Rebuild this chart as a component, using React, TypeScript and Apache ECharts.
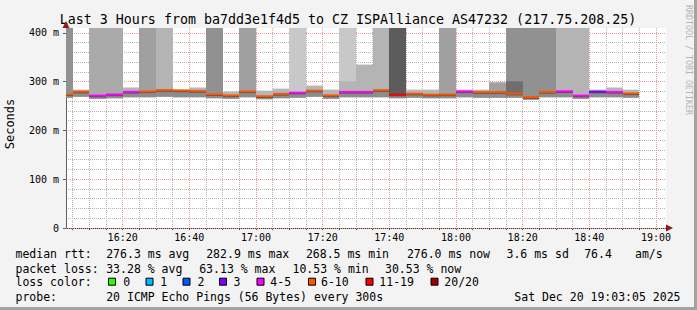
import React, { useEffect, useRef } from 'react';
import * as echarts from 'echarts';

// ---------- data ----------
const TITLE = 'Last 3 Hours from ba7dd3e1f4d5 to CZ ISPAlliance AS47232 (217.75.208.25)';
const tickLabels = ['16:20', '16:40', '17:00', '17:20', '17:40', '18:00', '18:20', '18:40', '19:00'];
const binEnds = [
  '16:05', '16:10', '16:15', '16:20', '16:25', '16:30', '16:35', '16:40', '16:45', '16:50',
  '16:55', '17:00', '17:05', '17:10', '17:15', '17:20', '17:25', '17:30', '17:35', '17:40',
  '17:45', '17:50', '17:55', '18:00', '18:05', '18:10', '18:15', '18:20', '18:25', '18:30',
  '18:35', '18:40', '18:45', '18:50', '18:55',
];
const medianMs = [
  274.0, 279.6, 271.4, 273.8, 279.2, 280.0, 282.9, 282.0, 281.0, 274.0,
  271.8, 280.0, 270.0, 275.0, 277.5, 281.6, 271.8, 279.0, 279.0, 282.6,
  273.4, 275.5, 273.4, 273.8, 280.0, 278.6, 278.6, 275.5, 268.5, 279.0,
  280.3, 271.4, 279.6, 279.0, 276.0,
];
const lostPings = [
  9, 6, 5, 5, 4, 8, 7, 6, 6, 9,
  6, 8, 6, 6, 4, 6, 6, 5, 5, 7,
  13, 6, 6, 8, 4, 6, 7, 10, 9, 9,
  5, 5, 3, 4, 6,
];
const smokeLoMs = [
  267, 269, 265, 266, 268, 268, 269, 268, 268, 266,
  265, 268, 264, 266, 267, 269, 265, 268, 268, 268,
  266, 267, 266, 266, 268, 267, 267, 267, 263, 268,
  268, 265, 268, 268, 267,
];
const smokeHiMs = [
  277, 283.7, 275, 277, 288, 283, 286, 283.7, 288, 277,
  279.6, 283, 281.6, 285.7, 281, 292, 283.7, 282, 282, 286,
  277, 283.7, 283.7, 277, 283.7, 283.7, 283.7, 279, 273, 282,
  284, 275, 283.7, 288, 283.7,
];
// slow / timed-out pings reaching above the smoke (999 = beyond the chart top, 0 = none)
const spikeTopMs = [
  999, 0, 999, 999, 0, 999, 999, 0, 0, 999,
  0, 999, 0, 0, 999, 0, 0, 999, 335, 999,
  999, 0, 0, 999, 0, 0, 298.7, 999, 999, 999,
  999, 999, 0, 0, 0,
];
const spikeDepth = [
  5, 0, 3, 3, 0, 4, 2, 0, 0, 5,
  0, 4, 0, 0, 1, 0, 0, 1, 2, 2,
  7, 0, 0, 4, 0, 0, 4, 5, 5, 5,
  2, 2, 0, 0, 0,
];
const stepTopMs = [
  0, 0, 0, 0, 0, 0, 0, 0, 0, 0,
  0, 0, 0, 0, 0, 0, 0, 300.7, 0, 0,
  0, 0, 0, 0, 0, 0, 0, 300.7, 0, 0,
  0, 0, 0, 0, 0,
];
const stepDepth = [
  0, 0, 0, 0, 0, 0, 0, 0, 0, 0,
  0, 0, 0, 0, 0, 0, 0, 2, 0, 0,
  0, 0, 0, 0, 0, 0, 0, 6, 0, 0,
  0, 0, 0, 0, 0,
];

const rttStats = ['276.3 ms avg', '282.9 ms max', '268.5 ms min', '276.0 ms now', '3.6 ms sd', '76.4', 'am/s'];
const lossStats = ['33.28 % avg', '63.13 % max', '10.53 % min', '30.53 % now'];
const lossLegendLabels = ['0', '1', '2', '3', '4-5', '6-10', '11-19', '20/20'];
const lossLegendColors = ['#26ff00', '#00b8ff', '#0059ff', '#7e00ff', '#ff00ff', '#ff5500', '#ff0000', '#a00000'];
const probeText = '20 ICMP Echo Pings (56 Bytes) every 300s';
const dateText = 'Sat Dec 20 19:03:05 2025';

// ---------- layout / style ----------
const MONO = '"DejaVu Sans Mono", monospace';
const START_MIN = 16 * 60 + 3; // 16:03
const END_MIN = 19 * 60 + 3; // 19:03
const Y_MAX = 410;
const SHADES = [255, 200, 180, 170, 160, 145, 110, 92];
const MINOR_GRID = '#b4b4b4';
const MAJOR_GRID = '#eb9a9a';

const toMin = (s: string) => {
  const [h, m] = s.split(':').map(Number);
  return h * 60 + m;
};
const minuteLabels: string[] = [];
for (let m = START_MIN; m <= END_MIN; m++) {
  minuteLabels.push(`${Math.floor(m / 60)}:${String(m % 60).padStart(2, '0')}`);
}
const minorFn = (i: number) => (START_MIN + i) % 5 === 0;
const majorFn = (i: number) => (START_MIN + i) % 20 === 0;

const shade = (d: number) => {
  const v = SHADES[Math.max(0, Math.min(SHADES.length - 1, d))];
  return `rgb(${v},${v},${v})`;
};
const lossColor = (n: number) => {
  let k = 0;
  if (n <= 0) k = 0;
  else if (n === 1) k = 1;
  else if (n === 2) k = 2;
  else if (n === 3) k = 3;
  else if (n <= 5) k = 4;
  else if (n <= 10) k = 5;
  else if (n <= 19) k = 6;
  else k = 7;
  return lossLegendColors[k];
};

const rttX = [106.2, 206.2, 305.9, 406.9, 506.5, 584.2, 635];
const lossX = [106.2, 199.2, 292.5, 385];
const boxX = [108.5, 146, 183, 219.5, 257, 308.5, 366, 431];
const boxLabelX = [123.3, 160.3, 197.5, 233.5, 270.3, 321, 379.3, 444.3];
const ROWS = [254.3, 268.6, 282.2, 296.6];

export default function App() {
  const ref = useRef<HTMLDivElement>(null);
  useEffect(() => {
    if (!ref.current) return;
    const chart = echarts.init(ref.current, undefined, { renderer: 'svg' });

    const data = binEnds.map((t, i) => {
      const e = toMin(t) - 16 * 60;
      const s = Math.max(3, e - 5);
      return [s, e, smokeLoMs[i], smokeHiMs[i], medianMs[i], lostPings[i], spikeTopMs[i], spikeDepth[i], stepTopMs[i], stepDepth[i]];
    });

    const renderItem = (_params: any, api: any) => {
      const s = api.value(0), e = api.value(1), lo = api.value(2), hi = api.value(3), med = api.value(4);
      const loss = api.value(5), spTop = api.value(6), spD = api.value(7), stTop = api.value(8), stD = api.value(9);
      const x0 = Math.round(api.coord([s, 0])[0]);
      const x1 = Math.round(api.coord([e, 0])[0]);
      const Y = (v: number) => api.coord([s, Math.min(v, Y_MAX)])[1];
      const band = (a: number, b: number, fill: string) => {
        const ya = Y(a), yb = Y(b);
        return { type: 'rect', shape: { x: x0, y: Math.min(ya, yb), width: x1 - x0, height: Math.abs(ya - yb) }, style: { fill } };
      };
      const kids: any[] = [band(lo, hi, '#b6b6b6')];
      if (spTop > 0) kids.push(band(med, spTop, shade(spD)));
      if (stTop > 0) kids.push(band(med, stTop, shade(stD)));
      kids.push(band(lo, med, '#8c8c8c'));
      kids.push(band(med - 3.5, med + 0.5, '#505050'));
      const ym = Y(med);
      kids.push({ type: 'rect', shape: { x: x0, y: ym - 1, width: x1 - x0, height: 2 }, style: { fill: lossColor(loss) } });
      return { type: 'group', children: kids };
    };

    const txt = (text: string, x: number, y: number, extra: any = {}) => ({
      type: 'text',
      x,
      y,
      z: 10,
      silent: true,
      style: {
        text,
        fill: '#000',
        font: `11.5px ${MONO}`,
        textAlign: 'left',
        textVerticalAlign: 'middle',
        verticalAlign: 'middle',
        ...extra,
      },
    });

    const graphic: any[] = [
      { type: 'rect', z: 0, silent: true, shape: { x: 0, y: 307, width: 697, height: 3 }, style: { fill: '#a3a3a3' } },
      { type: 'rect', z: 0, silent: true, shape: { x: 694, y: 0, width: 3, height: 310 }, style: { fill: '#a3a3a3' } },
      txt(TITLE, 348, 19.5, { font: `13.3px ${MONO}`, textAlign: 'center' }),
      { ...txt('Seconds', 10, 124, { font: `12px ${MONO}`, textAlign: 'center' }), rotation: Math.PI / 2 },
      { ...txt('RRDTOOL / TOBI OETIKER', 688.5, 60, { font: `8.3px ${MONO}`, textAlign: 'center', fill: '#b4b4b4' }), rotation: -Math.PI / 2 },
      { type: 'polygon', z: 10, silent: true, shape: { points: [[62.5, 28], [69.5, 28], [66, 21]] }, style: { fill: '#8e1b1b' } },
      { type: 'polygon', z: 10, silent: true, shape: { points: [[666, 224.5], [666, 231.5], [673, 228]] }, style: { fill: '#8e1b1b' } },
      txt('median rtt:', 15.5, ROWS[0]),
      txt('packet loss:', 15.5, ROWS[1]),
      txt('loss color:', 15.5, ROWS[2]),
      txt('probe:', 15.5, ROWS[3]),
      txt(probeText, 106.2, ROWS[3]),
      txt(dateText, 680.5, ROWS[3], { textAlign: 'right' }),
    ];
    rttStats.forEach((s, i) => graphic.push(txt(s, rttX[i], ROWS[0])));
    lossStats.forEach((s, i) => graphic.push(txt(s, lossX[i], ROWS[1])));
    lossLegendLabels.forEach((s, i) => {
      graphic.push({
        type: 'rect',
        z: 10,
        silent: true,
        shape: { x: boxX[i], y: ROWS[2] - 4, width: 7, height: 7 },
        style: { fill: lossLegendColors[i], stroke: '#000', lineWidth: 1 },
      });
      graphic.push(txt(s, boxLabelX[i], ROWS[2]));
    });

    chart.setOption({
      animation: false,
      backgroundColor: '#f3f3f3',
      grid: { left: 66, top: 28, width: 600, height: 200, show: true, backgroundColor: '#ffffff', borderWidth: 0 },
      xAxis: [
        {
          type: 'category',
          data: minuteLabels,
          boundaryGap: false,
          position: 'bottom',
          z: 0,
          axisLine: { show: true, lineStyle: { color: '#404040', width: 1 } },
          axisTick: { show: true, interval: minorFn, length: 2, lineStyle: { color: '#404040' } },
          axisLabel: {
            show: true,
            interval: (_i: number, v: string) => tickLabels.includes(v),
            fontFamily: MONO,
            fontSize: 10,
            color: '#000',
            margin: 4,
          },
          splitLine: { show: true, interval: minorFn, lineStyle: { color: MINOR_GRID, type: [1, 1], width: 1 } },
        },
        {
          type: 'category',
          data: minuteLabels,
          boundaryGap: false,
          position: 'top',
          z: 1,
          axisLine: { show: false },
          axisTick: { show: false },
          axisLabel: { show: false },
          splitLine: { show: true, interval: majorFn, lineStyle: { color: MAJOR_GRID, type: [1, 1], width: 1 } },
        },
        { type: 'value', min: 3, max: 183, show: false },
      ],
      yAxis: [
        {
          type: 'value',
          min: 0,
          max: Y_MAX,
          interval: 100,
          position: 'left',
          z: 1,
          axisLine: { show: true, lineStyle: { color: '#606060', width: 1 } },
          axisTick: { show: true, length: 3, lineStyle: { color: '#606060' } },
          axisLabel: {
            formatter: (v: number) => (v === 0 ? '0' : v % 100 === 0 ? `${v} m` : ''),
            fontFamily: MONO,
            fontSize: 10,
            color: '#000',
            margin: 7,
            showMaxLabel: false,
          },
          splitLine: { show: true, showMaxLine: false, lineStyle: { color: MAJOR_GRID, type: [1, 1], width: 1 } },
        },
        {
          type: 'value',
          min: 0,
          max: Y_MAX,
          interval: 20,
          position: 'right',
          z: 0,
          axisLine: { show: false },
          axisTick: { show: false },
          axisLabel: { show: false },
          splitLine: { show: true, showMaxLine: false, lineStyle: { color: MINOR_GRID, type: [1, 1], width: 1 } },
        },
      ],
      series: [
        {
          type: 'custom',
          xAxisIndex: 2,
          yAxisIndex: 0,
          clip: true,
          silent: true,
          z: 2,
          encode: { x: [0, 1], y: 4 },
          renderItem,
          data,
        },
      ],
      graphic,
    });
    return () => chart.dispose();
  }, []);
  return <div ref={ref} style={{ position: 'fixed', left: 0, top: 0, width: 697, height: 310 }} />;
}
